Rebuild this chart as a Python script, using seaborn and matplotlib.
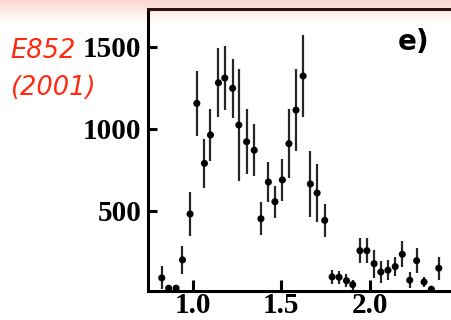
import numpy as np
import pandas as pd
import matplotlib
matplotlib.use("Agg")
import matplotlib.pyplot as plt
import seaborn as sns

# data
mass = [0.825, 0.864, 0.906, 0.942, 0.985, 1.023, 1.066, 1.100, 1.145, 1.181,
        1.225, 1.260, 1.304, 1.347, 1.385, 1.427, 1.464, 1.506, 1.543, 1.583,
        1.623, 1.664, 1.702, 1.745, 1.787, 1.826, 1.868, 1.903, 1.944, 1.983,
        2.024, 2.062, 2.102, 2.143, 2.183, 2.225, 2.264, 2.306, 2.347, 2.389]
events = [90, 27, 27, 200, 480, 1155, 789, 962, 1281, 1310,
          1247, 1023, 921, 869, 451, 675, 555, 688, 909, 1114,
          1322, 663, 608, 441, 96, 94, 73, 49, 256, 256,
          177, 126, 137, 159, 234, 76, 195, 65, 21, 149]
errors = [70, 15, 15, 85, 135, 198, 150, 160, 210, 195,
          180, 342, 197, 160, 100, 120, 98, 130, 210, 250,
          250, 200, 177, 100, 45, 40, 40, 30, 77, 75,
          85, 68, 60, 60, 80, 50, 76, 30, 15, 70]
xticks = [1.0, 1.5, 2.0]
xticklabels = ["1.0", "1.5", "2.0"]
yticks = [500, 1000, 1500]
yticklabels = ["500", "1000", "1500"]

df = pd.DataFrame({"mass": mass, "events": events, "err": errors})

sns.set_theme(style="white")
W, H = 451, 320
fig = plt.figure(figsize=(W / 100, H / 100), dpi=100)
fig.patch.set_facecolor("white")

# pink slide-background band at the top
bg = fig.add_axes([0, 0, 1, 1], zorder=0)
grad = np.ones((H, 2, 4))
grad[..., 0] = 252 / 255
grad[..., 1] = 214 / 255
grad[..., 2] = 208 / 255
rows = np.arange(H)
alpha = np.clip(1 - rows / 26.0, 0, 1) ** 1.3
grad[..., 3] = alpha[:, None]
bg.imshow(grad, aspect="auto", extent=[0, 1, 0, 1])
bg.set_axis_off()

left = 148.3 / W
bottom = (H - 291) / H
top = (H - 8.5) / H
ax = fig.add_axes([left, bottom, 1 - left, top - bottom], zorder=1)
ax.set_facecolor("none")

ax.errorbar(df["mass"], df["events"], yerr=df["err"], fmt="none",
            ecolor="#262626", elinewidth=1.6, capsize=0, zorder=2)
sns.scatterplot(data=df, x="mass", y="events", ax=ax, color="black",
                s=26, edgecolor="none", zorder=3, legend=False)

ax.set_xlim(0.749, 2.458)
ax.set_ylim(10, 1734)
ax.set_xlabel("")
ax.set_ylabel("")

for s in ["left", "bottom", "top"]:
    ax.spines[s].set_visible(True)
    ax.spines[s].set_color("black")
    ax.spines[s].set_linewidth(2.2)
ax.spines["top"].set_color("#2a0f0f")
ax.spines["right"].set_visible(False)

ax.set_xticks(xticks)
ax.set_xticklabels(xticklabels)
ax.set_yticks(yticks)
ax.set_yticklabels(yticklabels)
ax.tick_params(axis="x", direction="in", length=8, width=2.2, color="black",
               pad=1, bottom=True, top=False)
ax.tick_params(axis="y", direction="in", length=6.5, width=2.2, color="black",
               pad=5, left=True, right=False)
for lab in ax.get_xticklabels() + ax.get_yticklabels():
    lab.set_fontfamily("Liberation Serif")
    lab.set_fontweight("bold")
    lab.set_fontsize(21)
    lab.set_color("black")

fig.text(414 / W, 1 - 42 / H, "e)", fontsize=20, fontweight="bold",
         family="DejaVu Sans", ha="center", va="center", color="black")

red = "#ff2a10"
fig.text(10 / W, 1 - 58 / H, "E852", fontsize=18.5, style="italic",
         family="DejaVu Sans", color=red, ha="left", va="baseline")
fig.text(10 / W, 1 - 95 / H, "(2001)", fontsize=18.5, style="italic",
         family="DejaVu Sans", color=red, ha="left", va="baseline")

fig.savefig("out.png", dpi=100)
